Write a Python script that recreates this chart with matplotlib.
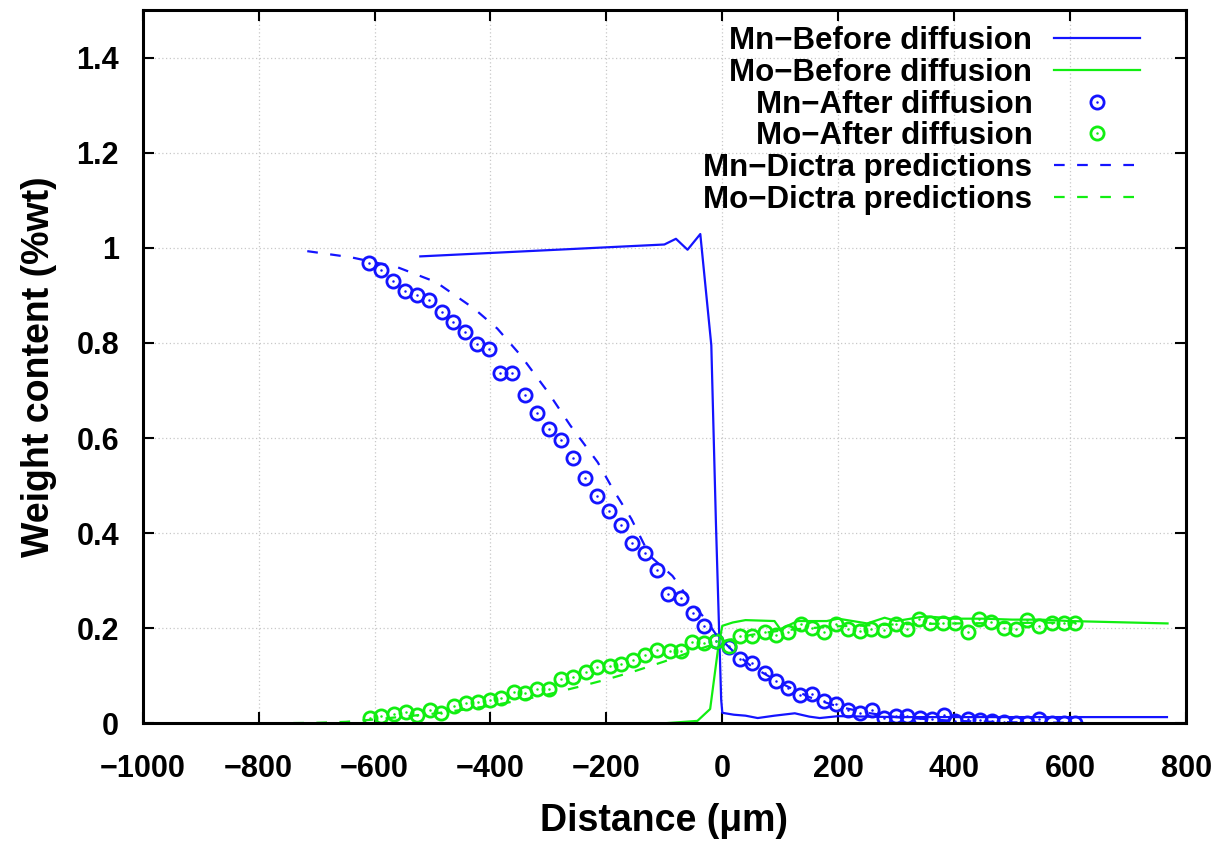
import numpy as np
import matplotlib
matplotlib.use('Agg')
import matplotlib.pyplot as plt
from matplotlib.ticker import FuncFormatter, MultipleLocator
from matplotlib.legend_handler import HandlerTuple

plt.rcParams['font.family'] = ['Liberation Sans', 'DejaVu Sans']
plt.rcParams['font.weight'] = 'bold'

BLUE = '#1414ff'
GREEN = '#11ee11'

# Mn before diffusion (solid blue)
mn_before_x = [-521, -100, -80, -60, -38, -19, -11, -2, 0, 20, 40, 61, 90, 125, 150, 168, 200, 300, 500, 767]
mn_before_y = [0.982, 1.007, 1.019, 0.996, 1.029, 0.795, 0.42, 0.05, 0.022, 0.018, 0.016, 0.011, 0.016, 0.021, 0.014, 0.011, 0.015, 0.013, 0.013, 0.013]

# Mo before diffusion (solid green)
mo_before_x = [-100, -43, -21, -7, 0, 18, 40, 90, 100, 130, 180, 200, 250, 280, 300, 350, 400, 450, 500, 550, 600, 768]
mo_before_y = [0.0, 0.005, 0.03, 0.16, 0.205, 0.212, 0.217, 0.215, 0.198, 0.215, 0.215, 0.22, 0.21, 0.222, 0.215, 0.225, 0.22, 0.22, 0.218, 0.218, 0.215, 0.21]

# Mn after diffusion (measured)
mn_after_x = [-610, -589, -568, -547, -526, -506, -484, -464, -444, -423,
              -403, -383, -362, -340, -320, -299, -279, -258, -237, -217,
              -196, -175, -155, -134, -112, -93, -71, -50, -31, -11,
              11, 31, 52, 74, 93, 114, 134, 155, 176, 196,
              216, 237, 259, 279, 300, 319, 341, 361, 382, 402,
              424, 445, 466, 486, 507, 525, 546, 568, 589, 609]
mn_after_y = [0.968, 0.954, 0.931, 0.909, 0.900, 0.891, 0.865, 0.844, 0.823, 0.798,
              0.788, 0.737, 0.737, 0.690, 0.652, 0.619, 0.596, 0.558, 0.516, 0.478,
              0.446, 0.418, 0.379, 0.359, 0.323, 0.272, 0.263, 0.231, 0.204, 0.173,
              0.161, 0.136, 0.126, 0.105, 0.089, 0.075, 0.060, 0.061, 0.047, 0.041,
              0.028, 0.022, 0.028, 0.012, 0.015, 0.015, 0.012, 0.008, 0.017, 0.005,
              0.008, 0.007, 0.005, 0.003, 0.0, 0.001, 0.008, 0.0, 0.0, 0.0]

# Mo after diffusion (measured)
mo_after_x = [-608, -588, -567, -546, -526, -505, -485, -463, -443, -422,
              -401, -382, -360, -340, -320, -299, -279, -257, -236, -216,
              -194, -174, -154, -134, -112, -91, -71, -52, -31, -11,
              11, 31, 52, 74, 93, 114, 136, 155, 175, 196,
              216, 237, 257, 279, 299, 319, 339, 359, 381, 402,
              424, 443, 464, 486, 506, 526, 546, 568, 589, 609]
mo_after_y = [0.012, 0.015, 0.020, 0.023, 0.018, 0.027, 0.021, 0.037, 0.042, 0.045,
              0.049, 0.053, 0.065, 0.063, 0.072, 0.072, 0.094, 0.098, 0.108, 0.119,
              0.120, 0.125, 0.133, 0.143, 0.154, 0.151, 0.152, 0.171, 0.168, 0.173,
              0.163, 0.184, 0.184, 0.191, 0.185, 0.192, 0.208, 0.201, 0.191, 0.208,
              0.199, 0.194, 0.198, 0.196, 0.208, 0.198, 0.220, 0.210, 0.210, 0.210,
              0.192, 0.220, 0.212, 0.201, 0.198, 0.218, 0.204, 0.211, 0.211, 0.211]

# Dictra predictions
mn_dictra_x = [-716, -640, -560, -494, -428, -388, -348, -301, -262, -215, -189, -157, -125, -86, -68, -46, -29, -11,
               20, 50, 100, 150, 200, 250, 300, 400, 500, 610]
mn_dictra_y = [0.993, 0.980, 0.959, 0.928, 0.872, 0.830, 0.774, 0.697, 0.626, 0.549, 0.493, 0.43, 0.352, 0.31, 0.279, 0.243, 0.219, 0.187,
               0.150, 0.120, 0.085, 0.055, 0.035, 0.022, 0.013, 0.005, 0.002, 0.001]
mo_dictra_x = [-780, -700, -650, -600, -550, -500, -450, -400, -350, -300, -250, -200, -150, -100, -50, 0,
               50, 100, 150, 200, 300, 400, 500, 610]
mo_dictra_y = [0.0, 0.001, 0.003, 0.008, 0.014, 0.020, 0.028, 0.037, 0.048, 0.061, 0.076, 0.092, 0.110, 0.130, 0.152, 0.172,
               0.186, 0.195, 0.200, 0.204, 0.208, 0.210, 0.211, 0.212]

labels = ['Mn\u2212Before diffusion', 'Mo\u2212Before diffusion', 'Mn\u2212After diffusion',
          'Mo\u2212After diffusion', 'Mn\u2212Dictra predictions', 'Mo\u2212Dictra predictions']

fig = plt.figure(figsize=(12.19, 8.42), dpi=100)
ax = fig.add_axes([0.117, 0.141, 0.856, 0.847])

dash = (4.8, 5.6)
l1, = ax.plot(mn_before_x, mn_before_y, color=BLUE, lw=1.6)
l2, = ax.plot(mo_before_x, mo_before_y, color=GREEN, lw=1.6)
c1, = ax.plot(mn_after_x, mn_after_y, ls='none', marker='o', ms=9.5, mfc='none', mec=BLUE, mew=2.0)
d1, = ax.plot(mn_after_x, mn_after_y, ls='none', marker='o', ms=1.8, mfc=BLUE, mec=BLUE, mew=0)
c2, = ax.plot(mo_after_x, mo_after_y, ls='none', marker='o', ms=9.5, mfc='none', mec=GREEN, mew=2.0)
d2, = ax.plot(mo_after_x, mo_after_y, ls='none', marker='o', ms=1.8, mfc=GREEN, mec=GREEN, mew=0)
l5, = ax.plot(mn_dictra_x, mn_dictra_y, color=BLUE, lw=1.6, dashes=dash)
l6, = ax.plot(mo_dictra_x, mo_dictra_y, color=GREEN, lw=1.6, dashes=dash)

ax.set_xlim(-1000, 800)
ax.set_ylim(0, 1.5)
ax.xaxis.set_major_locator(MultipleLocator(200))
ax.yaxis.set_major_locator(MultipleLocator(0.2))
ax.yaxis.set_major_formatter(FuncFormatter(lambda v, p: '%g' % round(v, 2) if v <= 1.41 else ''))
ax.grid(True, color='#c8c8c8', ls=(0, (1, 2)), lw=0.9)
ax.tick_params(direction='in', length=8, width=1.5, top=True, right=True, labelsize=22)
ax.tick_params(axis='x', pad=22)
ax.tick_params(axis='y', pad=17)
for s in ax.spines.values():
    s.set_linewidth(2.2)

ax.set_xlabel('Distance (μm)', fontsize=27, fontweight='bold', labelpad=14)
ax.set_ylabel('Weight content (%wt)', fontsize=27, fontweight='bold', labelpad=14)

# markerfirst=False puts the samples on the right and right-aligns the rows
ax.legend([l1, l2, (c1, d1), (c2, d2), l5, l6], labels,
          loc='upper right', bbox_to_anchor=(0.977, 1.008), frameon=False, markerfirst=False,
          numpoints=1, handlelength=2.75, handletextpad=0.7, labelspacing=0.055,
          borderaxespad=0.3, handler_map={tuple: HandlerTuple(ndivide=1)},
          prop={'weight': 'bold', 'size': 22.5})

fig.savefig('out.png', dpi=100)
